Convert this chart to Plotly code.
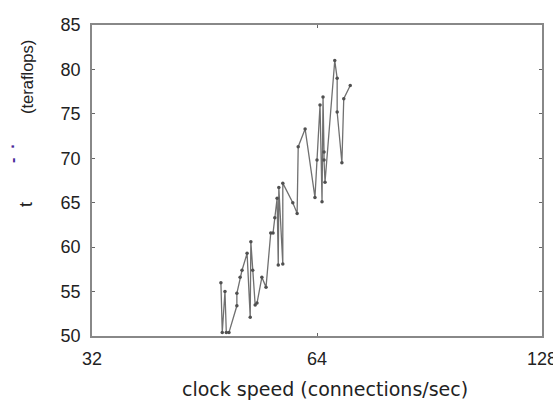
import plotly.graph_objects as go

# clock speed (connections/sec), log2 axis
x_speed = [47.6, 47.8, 48.2, 48.4, 48.8, 50.0, 50.0, 50.5, 50.8, 51.6,
           52.1, 52.2, 52.5, 52.9, 53.2, 54.0, 54.7, 55.5, 55.9, 56.2,
           56.6, 56.8, 56.9, 57.6, 57.6, 59.4, 60.2, 60.4, 61.7, 63.6,
           64.0, 64.6, 65.0, 65.2, 65.4, 65.4, 65.6, 67.6, 68.1, 68.1,
           69.1, 69.5, 70.9]
# teraflops
y_tflops = [56.0, 50.4, 55.0, 50.4, 50.4, 53.4, 54.8, 56.6, 57.4, 59.3,
            52.1, 60.6, 57.4, 53.5, 53.7, 56.6, 55.5, 61.6, 61.6, 63.3,
            65.5, 58.0, 66.7, 58.1, 67.2, 65.0, 63.8, 71.3, 73.3, 65.6,
            69.8, 76.0, 65.1, 76.9, 70.7, 69.8, 67.3, 81.0, 79.0, 75.2,
            69.5, 76.7, 78.2]

x_ticks = [32, 64, 128]
y_ticks = [50, 55, 60, 65, 70, 75, 80, 85]

FONT = "Liberation Sans, Arial, sans-serif"

fig = go.Figure()
fig.add_trace(go.Scatter(
    x=x_speed, y=y_tflops, mode="lines+markers",
    line=dict(color="#707070", width=1.3),
    marker=dict(color="#505050", size=3.5),
    showlegend=False,
))

L, R, T, B = 92, 11, 25, 65
fig.update_layout(
    width=553, height=401,
    margin=dict(l=L, r=R, t=T, b=B, autoexpand=False),
    paper_bgcolor="white", plot_bgcolor="white",
    font=dict(family=FONT, size=18, color="#222222"),
)
fig.update_xaxes(
    type="log", range=[1.50515, 2.10721],
    tickvals=x_ticks, ticktext=[str(v) for v in x_ticks],
    ticks="inside", ticklen=3, tickcolor="#666666", tickwidth=1,
    showline=True, linecolor="#888888", linewidth=1.5, mirror="allticks",
    showgrid=False, zeroline=False, automargin=False,
    tickfont=dict(family=FONT, size=18, color="#222222"),
    ticklabelstandoff=6, ticklabeloverflow="allow",
)
fig.update_yaxes(
    range=[50, 85], tickvals=y_ticks,
    ticks="inside", ticklen=3, tickcolor="#666666", tickwidth=1,
    showline=True, linecolor="#888888", linewidth=1.5, mirror="allticks",
    showgrid=False, zeroline=False, automargin=False,
    tickfont=dict(family=FONT, size=18, color="#222222"),
    ticklabelstandoff=6, ticklabeloverflow="allow",
)

def px(xp):
    return (xp - L) / (553 - L - R)

def py(yp):
    return (401 - B - yp) / (401 - T - B)

fig.add_annotation(
    text="clock speed (connections/sec)", x=px(325), y=py(389),
    xref="paper", yref="paper", showarrow=False,
    font=dict(family="DejaVu Sans, sans-serif", size=19, color="#222222"),
    xanchor="center", yanchor="middle",
)
fig.add_annotation(
    text="(teraflops)", x=px(27), y=py(77),
    xref="paper", yref="paper", showarrow=False, textangle=-90,
    font=dict(family=FONT, size=16.5, color="#222222"),
    xanchor="center", yanchor="middle",
)
fig.add_annotation(
    text="<b>-  ·</b>", x=px(12), y=py(153),
    xref="paper", yref="paper", showarrow=False, textangle=-90,
    font=dict(family=FONT, size=16, color="#4a2a9a"),
    xanchor="center", yanchor="middle",
)
fig.add_annotation(
    text="t", x=px(26), y=py(205),
    xref="paper", yref="paper", showarrow=False, textangle=-90,
    font=dict(family=FONT, size=18, color="#222222"),
    xanchor="center", yanchor="middle",
)

fig.write_html(
    "out.html",
    config={"displayModeBar": False},
    post_script="document.body.style.margin='0';document.body.style.overflow='hidden';",
)
